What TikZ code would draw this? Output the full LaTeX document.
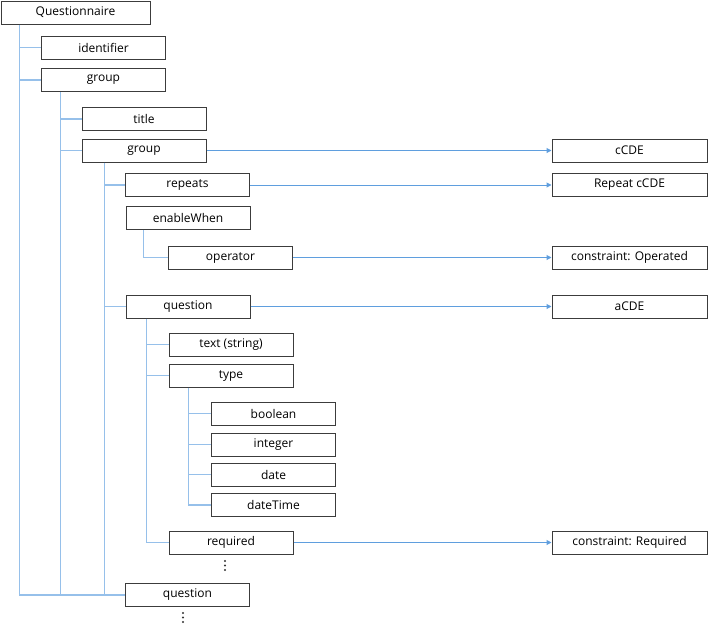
\documentclass[tikz,border=0pt]{standalone}
\usepackage{fontspec}
\setmainfont{Open Sans}
\usetikzlibrary{arrows.meta}
\definecolor{treeline}{RGB}{150,192,234}
\definecolor{arrline}{RGB}{95,158,222}
\definecolor{boxline}{RGB}{60,60,60}
\begin{document}
\begin{tikzpicture}[x=1pt,y=-1pt,
  box/.style={draw=boxline,line width=1pt,fill=white,minimum width=124pt,minimum height=23pt,inner sep=0pt,font=\fontsize{12}{14}\selectfont},
  rbox/.style={box,minimum width=155pt},
  tree/.style={draw=treeline,line width=1.1pt},
  link/.style={draw=arrline,line width=1pt,-{Triangle[length=5pt,width=5pt]}},
  dot/.style={fill=black!80}]
\useasboundingbox (0,0) rectangle (709,624);
% left boxes
\node[box,minimum width=149pt] (Q) at (75.5,12.5) {Questionnaire};
\node[box] (ident) at (103.5,47.5) {identifier};
\node[box] (g1) at (103.5,80) {group};
\node[box] (title) at (144,119) {title};
\node[box] (g2) at (144,150.5) {group};
\node[box] (rep) at (187.5,185) {repeats};
\node[box] (ew) at (188,218) {enableWhen};
\node[box] (op) at (230.5,257.5) {operator};
\node[box] (qu) at (188,306.5) {question};
\node[box] (txt) at (231,344.5) {text (string)};
\node[box] (typ) at (231,375.5) {type};
\node[box] (bool) at (273.5,413.5) {boolean};
\node[box] (int) at (273.5,444.5) {integer};
\node[box] (date) at (273.5,474.5) {date};
\node[box] (dt) at (273.5,505) {dateTime};
\node[box] (req) at (231,542.5) {required};
\node[box] (q2) at (187.5,595) {question};
% right boxes
\node[rbox] (ccde) at (629.5,150.5) {cCDE};
\node[rbox] (rccde) at (629.5,185) {Repeat cCDE};
\node[rbox] (cop) at (629.5,257.5) {constraint: Operated};
\node[rbox] (acde) at (629.5,306.5) {aCDE};
\node[rbox] (creq) at (629.5,542.5) {constraint: Required};
% dots
\foreach \yy in {561,565.5,570} \fill[dot] (225,\yy) circle (1.1pt);
\foreach \yy in {613,617.5,622} \fill[dot] (183,\yy) circle (1.1pt);
% vertical line coordinates
\coordinate (a) at (19.5,0);
\coordinate (b) at (60.5,0);
\coordinate (c) at (104.5,0);
\coordinate (e) at (143.5,0);
\coordinate (d) at (146.5,0);
\coordinate (f) at (188.5,0);
% tree lines
\draw[tree] (Q.south -| a) |- (q2.west);
\draw[tree] (a |- ident) -- (ident.west);
\draw[tree] (a |- g1) -- (g1.west);
\draw[tree] (g1.south -| b) -- (b |- q2);
\draw[tree] (b |- title) -- (title.west);
\draw[tree] (b |- g2) -- (g2.west);
\draw[tree] (g2.south -| c) -- (c |- q2);
\draw[tree] (c |- rep) -- (rep.west);
\draw[tree] (c |- qu) -- (qu.west);
\draw[tree] (ew.south -| e) |- (op.west);
\draw[tree] (qu.south -| d) |- (req.west);
\draw[tree] (d |- txt) -- (txt.west);
\draw[tree] (d |- typ) -- (typ.west);
\draw[tree] (typ.south -| f) |- (dt.west);
\draw[tree] (f |- bool) -- (bool.west);
\draw[tree] (f |- int) -- (int.west);
\draw[tree] (f |- date) -- (date.west);
% links
\draw[link] (g2.east) -- (ccde.west);
\draw[link] (rep.east) -- (rccde.west);
\draw[link] (op.east) -- (cop.west);
\draw[link] (qu.east) -- (acde.west);
\draw[link] (req.east) -- (creq.west);
\end{tikzpicture}
\end{document}
